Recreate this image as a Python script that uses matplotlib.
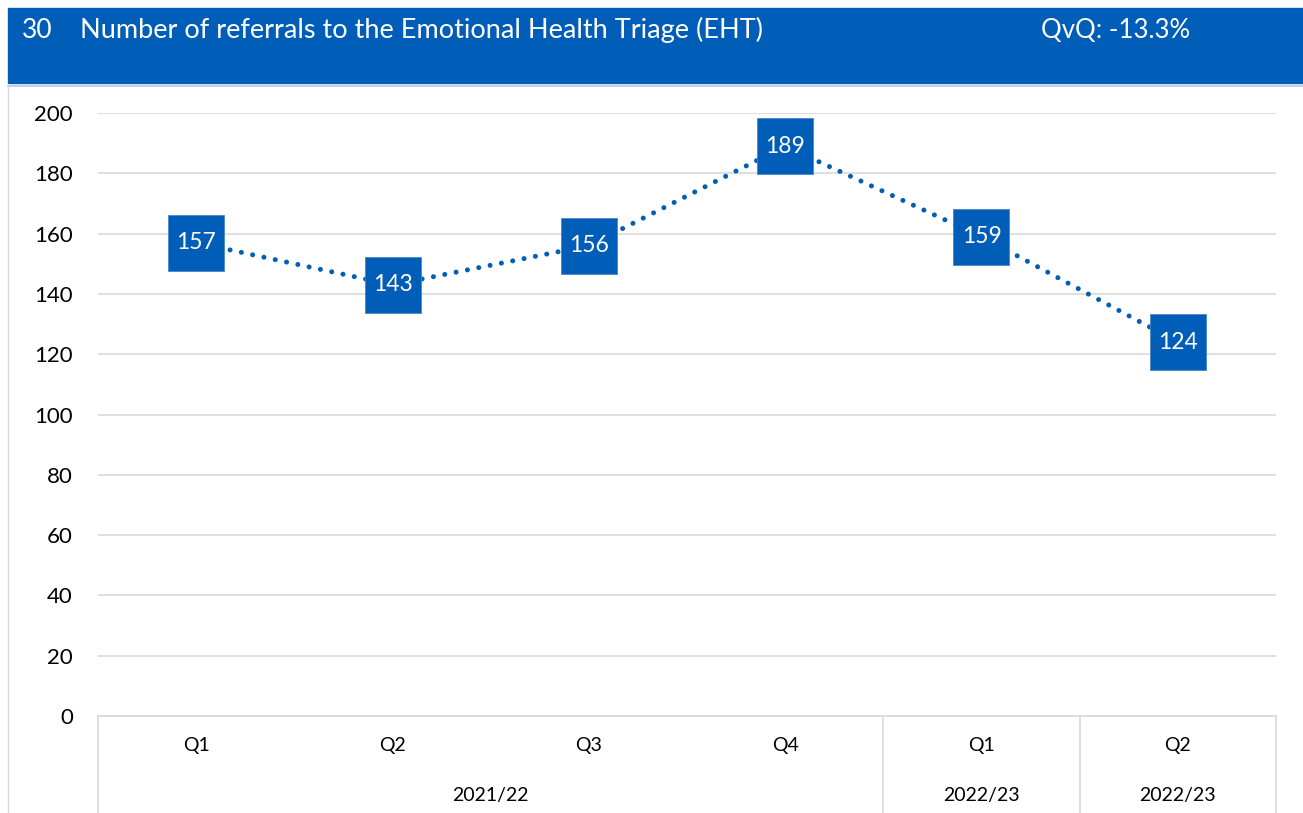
import matplotlib.pyplot as plt
from matplotlib.patches import Rectangle
from matplotlib.transforms import blended_transform_factory

plt.rcParams['font.family'] = ['Lato', 'DejaVu Sans']

# Data
quarters = ["Q1", "Q2", "Q3", "Q4", "Q1", "Q2"]
years = ["2021/22", "2022/23", "2022/23"]
year_spans = [(0, 3), (4, 4), (5, 5)]
referrals = [157, 143, 156, 189, 159, 124]
title = "Number of referrals to the Emotional Health Triage (EHT)"
chart_no = "30"
qvq = "QvQ: -13.3%"

blue = "#005EB8"
grid_grey = "#d9d9d9"

fig = plt.figure(figsize=(13.03, 8.13), dpi=100)

# Header band
fig.patches.append(Rectangle((8 / 1303, 1 - 83 / 813), 1 - 8 / 1303, 75 / 813,
                             transform=fig.transFigure, color=blue, zorder=0))
fig.add_artist(plt.Line2D([8 / 1303, 1], [1 - 86 / 813] * 2, transform=fig.transFigure,
                          color="#b4c7e7", lw=1.2))
fig.add_artist(plt.Line2D([8 / 1303] * 2, [0, 1 - 86 / 813], transform=fig.transFigure,
                          color=grid_grey, lw=1))
fig.text(22 / 1303, 1 - 30 / 813, chart_no, color="white", fontsize=19, va="center")
fig.text(80 / 1303, 1 - 30 / 813, title, color="white", fontsize=19.5, va="center")
fig.text(1041 / 1303, 1 - 30 / 813, qvq, color="white", fontsize=18.5, va="center")

ax = fig.add_axes([98 / 1303, 1 - 716 / 813, 1178 / 1303, 603 / 813])
x = list(range(len(referrals)))
ax.plot(x, referrals, color=blue, lw=3.6, linestyle=(0, (0.01, 2.3)),
        dash_capstyle="round", zorder=2)
ax.plot(x, referrals, linestyle="none", marker="s", markersize=41,
        markerfacecolor=blue, markeredgecolor="#4a86c8", markeredgewidth=0.6, zorder=3)
for xi, v in zip(x, referrals):
    ax.text(xi, v, str(v), color="white", fontsize=16.5, ha="center", va="center", zorder=4)

ax.set_xlim(-0.5, len(referrals) - 0.5)
ax.set_ylim(0, 200)
ax.set_yticks(range(0, 201, 20))
ax.yaxis.grid(True, color=grid_grey, lw=1.2)
ax.set_axisbelow(True)
for s in ["left", "right", "top"]:
    ax.spines[s].set_visible(False)
ax.spines["bottom"].set_color(grid_grey)
ax.spines["bottom"].set_linewidth(1.2)
ax.tick_params(axis="y", length=0, pad=18, labelsize=16, labelcolor="black")
ax.tick_params(axis="x", length=0, labelbottom=False)

# Category table below axis
trans = blended_transform_factory(ax.transData, ax.transAxes)
px = 1 / 603
for xi, q in zip(x, quarters):
    ax.text(xi, -30 * px, q, transform=trans, ha="center", va="center", fontsize=14)
for (a, b), yr in zip(year_spans, years):
    ax.text((a + b) / 2, -79 * px, yr, transform=trans, ha="center", va="center", fontsize=14)
for sep in [-0.5, 3.5, 4.5, 5.5]:
    ax.plot([sep, sep], [0, -97 * px], transform=trans, color=grid_grey, lw=1.2, clip_on=False)

fig.savefig("out.png", dpi=100)
